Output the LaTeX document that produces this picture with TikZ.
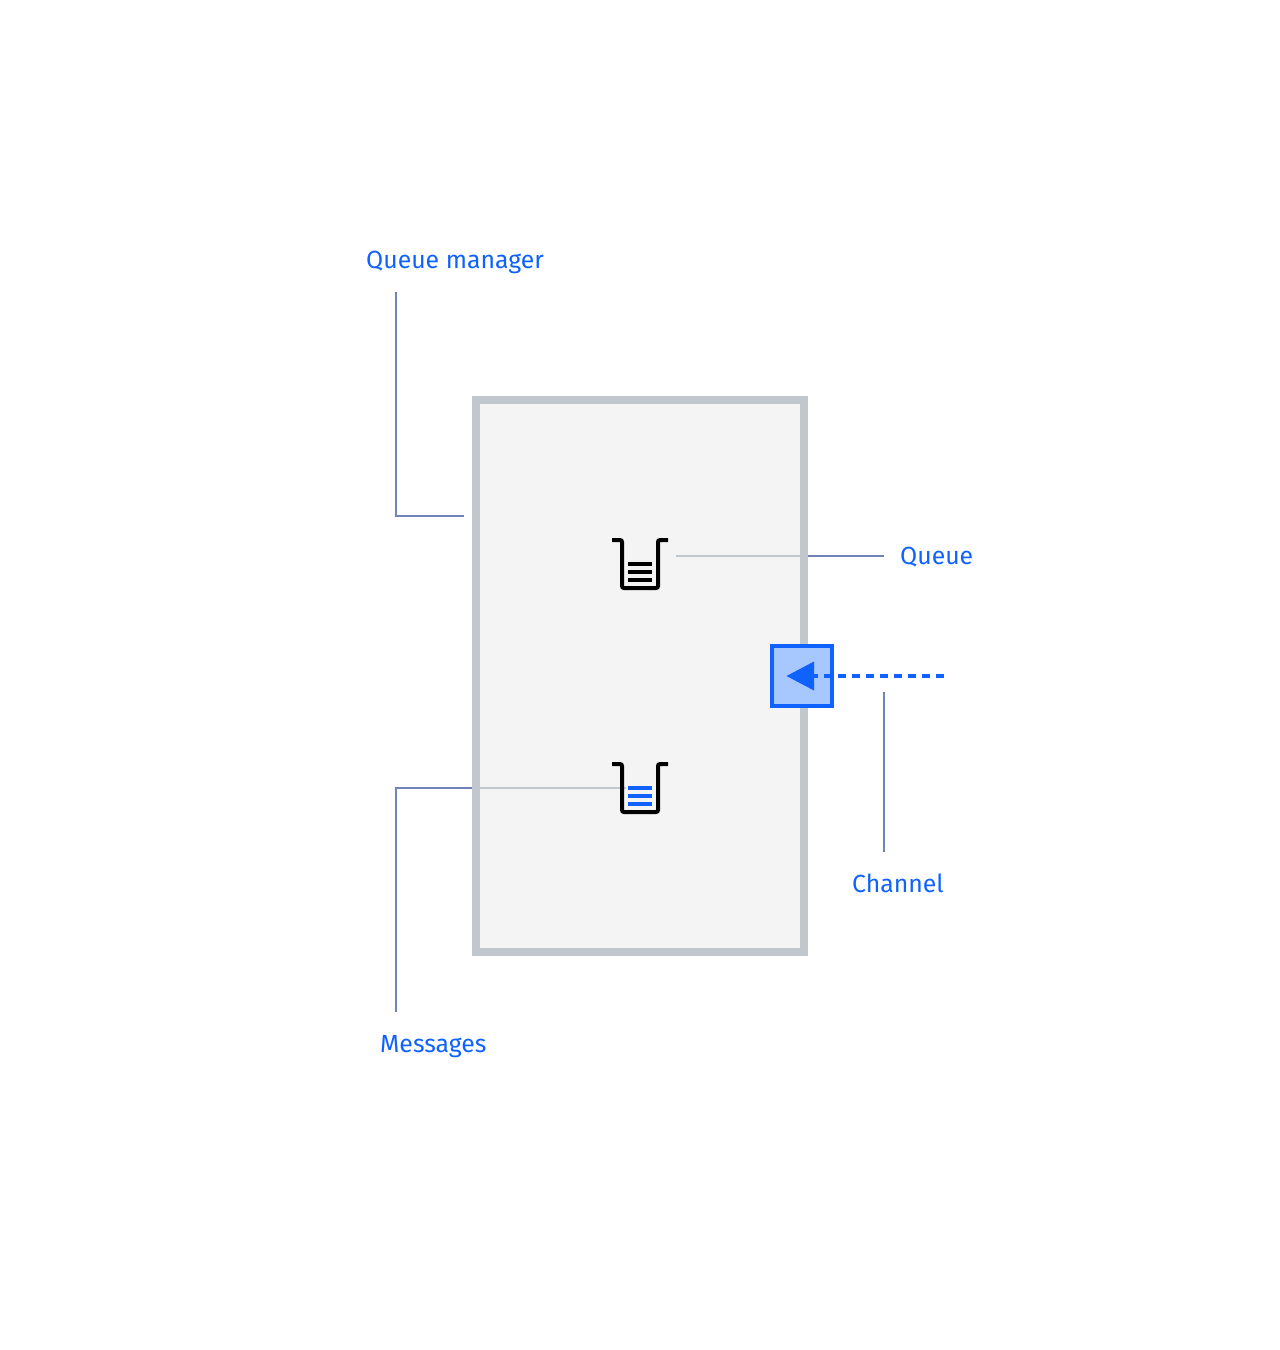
\documentclass[tikz,border=0pt]{standalone}
\usepackage{fontspec}
\setmainfont{Fira Sans}
\definecolor{ibmblue}{HTML}{0F62FE}
\definecolor{leader}{HTML}{6F84B8}
\definecolor{framegray}{HTML}{C1C7CD}
\definecolor{panel}{HTML}{F4F4F4}
\definecolor{chfill}{HTML}{A6C8FF}
\usetikzlibrary{calc}
\tikzset{
  leaderline/.style={draw=leader,line width=1.5pt},
  innerline/.style={draw=framegray,line width=1.5pt},
  lab/.style={text=ibmblue,font=\fontsize{24.8}{28}\selectfont,inner sep=0pt,anchor=base west},
  beaker/.style={draw=black,line width=4pt,rounded corners=2pt},
  frame/.style={draw=framegray,fill=panel,line width=8pt,minimum width=328pt,minimum height=552pt,inner sep=0pt},
  chbox/.style={draw=ibmblue,fill=chfill,line width=4pt,minimum width=60pt,minimum height=60pt,inner sep=0pt},
}
\newcommand{\beakerat}[3]{%
  \draw[beaker] (#1-28,#2-24) -- (#1-18,#2-24) -- (#1-18,#2+24) -- (#1+18,#2+24) -- (#1+18,#2-24) -- (#1+28,#2-24);
  \foreach \dy in {-2,6,14} \fill[#3] (#1-12,#2+\dy) rectangle (#1+12,#2+\dy+4);
}
\begin{document}
\begin{tikzpicture}[x=1pt,y=-1pt]
\useasboundingbox (0,0) rectangle (1280,1350);
\node[frame] (qm) at (640,676) {};
\coordinate (qmL) at (464,516);
\coordinate (qmT) at (396,292);
\coordinate (qL) at (676,556);
\coordinate (qE) at (808,556);
\coordinate (qR) at (884,556);
\coordinate (mI) at (626,788);
\coordinate (mE) at (472,788);
\coordinate (mB) at (396,1012);
\coordinate (cT) at (884,692);
\coordinate (cB) at (884,852);
\draw[leaderline] (qmT) |- (qmL);
\draw[innerline] (qL) -- (qE);
\draw[leaderline] (qE) -- (qR);
\draw[innerline] (mI) -- (mE);
\draw[leaderline] (mB) |- (mE);
\draw[leaderline] (cT) -- (cB);
\beakerat{640}{564}{black}
\beakerat{640}{788}{ibmblue}
\node[chbox] (ch) at (802,676) {};
\coordinate (dashEnd) at (944,676);
\coordinate (tri) at (814,676);
\draw[ibmblue,line width=4pt,dash pattern=on 8pt off 6pt] (dashEnd) -- (tri);
\fill[ibmblue] (814,661.5) -- (786.5,676) -- (814,690.5) -- cycle;
\node[lab] (t1) at (366,268) {Queue manager};
\node[lab] (t2) at (900,564) {Queue};
\node[lab] (t3) at (852,892) {Channel};
\node[lab] (t4) at (380,1052) {Messages};
\end{tikzpicture}
\end{document}
